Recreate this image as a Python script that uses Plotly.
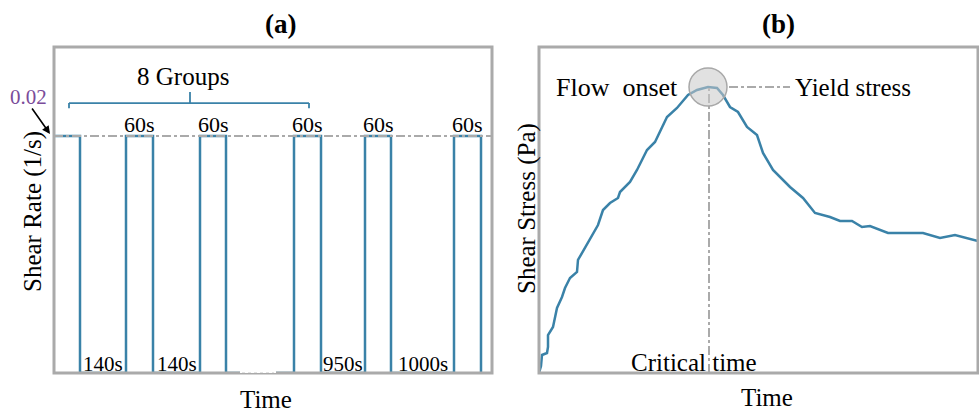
import plotly.graph_objects as go

# ---------------- data (schematic units) ----------------
# Panel (a): shear-rate pulses (time in schematic units, rate in 1/s)
rate_level = 0.02
pulse_starts = [0, 72, 146, 240, 311, 400]
pulse_ends = [26, 99, 172, 267, 337, 427]
pulse_labels = ["", "60s", "60s", "60s", "60s", "60s"]
rest_centers = [49, 122.5, 289, 368.5]
rest_labels = ["140s", "140s", "950s", "1000s"]

# Panel (b): shear stress vs time (schematic units)
stress_time = [0, 2, 3, 8, 9, 9, 14, 16, 18, 23, 26, 31, 38, 39, 49, 59, 64, 71, 79, 81,
               91, 98, 108, 116, 128, 138, 149, 158, 169, 178, 184, 191, 199, 208, 218,
               224, 234, 251, 264, 276, 291, 301, 313, 323, 331, 349, 384, 401, 416, 428, 439]
stress_val = [0, 7, 18, 20, 26, 38, 46, 55, 65, 76, 85, 95, 101, 113, 131, 148, 163, 170,
              175, 181, 191, 203, 223, 231, 256, 265, 278, 283, 286, 285, 278, 266, 261,
              246, 238, 220, 203, 186, 175, 160, 156, 152, 152, 146, 147, 140, 140, 135,
              138, 135, 132]
peak_time = 169
peak_stress = 286

BLUE = "#3A82A8"
GRAY = "#AAAAAA"
FONT = "Liberation Serif"

# build the step signal for panel (a)
sx, sy = [], []
for i, (s, e) in enumerate(zip(pulse_starts, pulse_ends)):
    if i > 0:
        sx.append(s); sy.append(0)
    sx += [s, e, e]
    sy += [rate_level, rate_level, 0]

fig = go.Figure()
fig.add_trace(go.Scatter(x=sx, y=sy, mode="lines", line=dict(color=BLUE, width=2.5),
                         xaxis="x", yaxis="y", showlegend=False, hoverinfo="skip"))
fig.add_trace(go.Scatter(x=stress_time, y=stress_val, mode="lines",
                         line=dict(color=BLUE, width=2.5),
                         xaxis="x2", yaxis="y2", showlegend=False, hoverinfo="skip"))

W, H = 979, 412
ya_dom = [1 - 373 / H, 1 - 47 / H]
fig.update_layout(
    width=W, height=H, margin=dict(l=0, r=0, t=0, b=0),
    paper_bgcolor="white", plot_bgcolor="white",
    font=dict(family=FONT, color="black"),
    xaxis=dict(domain=[54 / W, 492 / W], range=[0, 438], visible=False),
    yaxis=dict(domain=ya_dom, range=[0, 0.02 * 326 / 237], visible=False),
    xaxis2=dict(domain=[539 / W, 978 / W], range=[0, 439], visible=False),
    yaxis2=dict(domain=ya_dom, range=[0, 326], visible=False, anchor="x2"),
)

shapes = []
# frames
for xr, yr in (("x domain", "y domain"), ("x2 domain", "y2 domain")):
    shapes.append(dict(type="rect", xref=xr, yref=yr, x0=0, x1=1, y0=0, y1=1,
                       line=dict(color=GRAY, width=3), layer="above"))
# reference level line (a)
shapes.append(dict(type="line", xref="x", yref="y", x0=0, x1=438, y0=rate_level, y1=rate_level,
                   line=dict(color=GRAY, width=2, dash="dashdot"), layer="above"))
# axis break in (a)
shapes.append(dict(type="rect", xref="x", yref="y", x0=186, x1=222, y0=-0.0004, y1=0.0004,
                   fillcolor="white", line=dict(width=0), layer="above"))
shapes.append(dict(type="line", xref="x", yref="y", x0=188, x1=220, y0=0, y1=0,
                   line=dict(color="#E2E2E2", width=2, dash="dot"), layer="above"))
# bracket "8 Groups"
yb = 0.02278
shapes += [
    dict(type="line", xref="x", yref="y", x0=15, x1=255, y0=yb, y1=yb, line=dict(color=BLUE, width=1.8)),
    dict(type="line", xref="x", yref="y", x0=15, x1=15, y0=yb, y1=0.02235, line=dict(color=BLUE, width=1.8)),
    dict(type="line", xref="x", yref="y", x0=255, x1=255, y0=yb, y1=0.02235, line=dict(color=BLUE, width=1.8)),
    dict(type="line", xref="x", yref="y", x0=136, x1=136, y0=yb, y1=0.02371, line=dict(color=BLUE, width=1.8)),
]
# panel (b) guides
shapes.append(dict(type="line", xref="x2", yref="y2", x0=peak_time + 1, x1=peak_time + 1,
                   y0=0, y1=peak_stress, line=dict(color=GRAY, width=2, dash="dashdot")))
shapes.append(dict(type="line", xref="x2", yref="y2", x0=peak_time + 21, x1=251,
                   y0=peak_stress, y1=peak_stress, line=dict(color=GRAY, width=2, dash="dashdot")))
shapes.append(dict(type="circle", xref="x2", yref="y2", x0=peak_time - 19, x1=peak_time + 19,
                   y0=peak_stress - 19, y1=peak_stress + 19,
                   fillcolor="rgba(200,200,200,0.55)", line=dict(color="#A8A8A8", width=1.5),
                   layer="above"))
fig.update_layout(shapes=shapes)

ann = []
def txt(text, x, y, size, xref="paper", yref="paper", **kw):
    d = dict(text=text, x=x, y=y, xref=xref, yref=yref, showarrow=False,
             xanchor="center", yanchor="middle",
             font=dict(family=FONT, size=size, color=kw.pop("color", "black")))
    d.update(kw)
    ann.append(d)

# titles
txt("<b>(a)</b>", 280 / W, 1 - 24 / H, 27)
txt("<b>(b)</b>", 778 / W, 1 - 24 / H, 27)
# axis titles
txt("Shear Rate (1/s)", 33 / W, 1 - 212 / H, 25, textangle=-90)
txt("Time", 266 / W, 1 - 399 / H, 25)
txt("Shear Stress (Pa)", 527 / W, 1 - 209 / H, 25, textangle=-90)
txt("Time", 767 / W, 1 - 397 / H, 25)
# panel (a) labels
for s, e, lab in zip(pulse_starts, pulse_ends, pulse_labels):
    if lab:
        txt(lab, (s + e) / 2, rate_level, 22, xref="x", yref="y", yanchor="bottom", yshift=-3)
for c, lab in zip(rest_centers, rest_labels):
    txt(lab, c, 0, 21, xref="x", yref="y", yanchor="bottom", yshift=-5)
txt("8 Groups", 129, 0.02498, 25, xref="x", yref="y")
txt("0.02", 28 / W, 1 - 97 / H, 21, color="#7A4C9A")
ann.append(dict(x=50 / W, y=1 - 134 / H, xref="paper", yref="paper", ax=-19, ay=-27,
                text="", showarrow=True, arrowhead=2, arrowsize=1,
                arrowwidth=1.6, arrowcolor="black"))
# panel (b) labels
txt("Flow  onset", 78, peak_stress, 26, xref="x2", yref="y2")
txt("Yield stress", 254, peak_stress, 25, xref="x2", yref="y2", xanchor="left")
txt("Critical time", 155, 0, 25, xref="x2", yref="y2", yanchor="bottom", yshift=-5)
fig.update_layout(annotations=ann)

fig.write_html("out.html", config={"displayModeBar": False},
               post_script="document.body.style.margin='0';")
